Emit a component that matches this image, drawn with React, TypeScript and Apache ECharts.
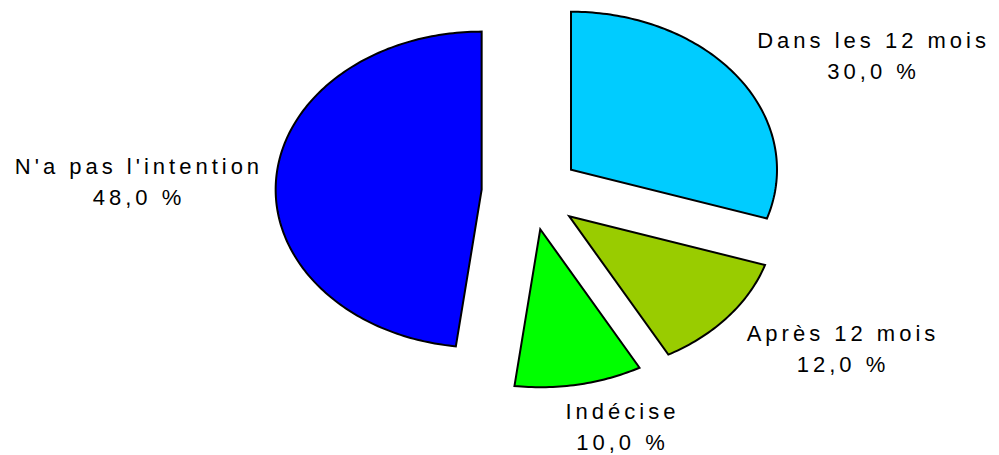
import React, { useEffect, useRef } from "react";
import * as echarts from "echarts";

const categories = ["Dans les 12 mois", "Après 12 mois", "Indécise", "N'a pas l'intention"];
const values = [30, 12, 10, 48];
const colors = ["#00CCFF", "#99CC00", "#00FF00", "#0000FF"];

const CX = 531;
const CY = 192;
const RX = 206;
const RY = 158;
const EXPLODE = 0.24;
const FONT_SIZE = 22;
const FONT_FAMILY = '"Liberation Sans", Arial, sans-serif';
const LETTER_SPACING = 4;
const LINE_GAP = 31;

function fmt(v: number) {
  return v.toFixed(1).replace(".", ",") + " %";
}

function measure(text: string) {
  const c = document.createElement("canvas");
  const ctx = c.getContext("2d")!;
  ctx.font = `${FONT_SIZE}px ${FONT_FAMILY}`;
  return ctx.measureText(text).width + LETTER_SPACING * text.length;
}

const clamp = (v: number) => Math.max(-1, Math.min(1, v));

export default function App() {
  const ref = useRef<HTMLDivElement>(null);
  useEffect(() => {
    if (!ref.current) return;
    const chart = echarts.init(ref.current, undefined, { renderer: "svg" });
    const total = values.reduce((a, b) => a + b, 0);
    const textStyle = (text: string) => ({
      text,
      fill: "#000",
      fontSize: FONT_SIZE,
      fontFamily: FONT_FAMILY,
      align: "center",
      verticalAlign: "middle",
      lineHeight: 24,
    });
    const renderItem = (params: any, api: any) => {
      const i = params.dataIndex;
      const before = values.slice(0, i).reduce((a, b) => a + b, 0);
      const v = api.value(0);
      const a0 = (before / total) * Math.PI * 2;
      const a1 = ((before + v) / total) * Math.PI * 2;
      const m = (a0 + a1) / 2;
      const ax = CX + EXPLODE * RX * Math.sin(m);
      const ay = CY - EXPLODE * RY * Math.cos(m);
      const pts: number[][] = [[ax, ay]];
      const steps = Math.max(4, Math.ceil(((a1 - a0) * 180) / Math.PI));
      for (let k = 0; k <= steps; k++) {
        const t = a0 + ((a1 - a0) * k) / steps;
        pts.push([ax + RX * Math.sin(t), ay - RY * Math.cos(t)]);
      }
      const px = ax + RX * Math.sin(m);
      const py = ay - RY * Math.cos(m);
      const line1 = categories[i];
      const line2 = fmt(v);
      const hw = Math.max(measure(line1), measure(line2)) / 2;
      const hh = 26;
      const lx = px + Math.sin(m) * 18 + hw * clamp(3.3 * Math.sin(m)) + 5;
      const ly = py - Math.cos(m) * 12 + hh * clamp(-1.2 * Math.cos(m)) + 5;
      return {
        type: "group",
        children: [
          {
            type: "polygon",
            shape: { points: pts },
            style: { fill: colors[i], stroke: "#000", lineWidth: 2, lineJoin: "miter" },
          },
          { type: "text", x: lx, y: ly - LINE_GAP / 2, style: textStyle(line1) },
          { type: "text", x: lx, y: ly + LINE_GAP / 2, style: textStyle(line2) },
        ],
      };
    };
    chart.setOption({
      animation: false,
      backgroundColor: "#fff",
      series: [
        {
          type: "custom",
          coordinateSystem: "none",
          renderItem,
          silent: true,
          data: values.map((v, i) => ({ value: v, name: categories[i] })),
        },
      ],
    });
    return () => chart.dispose();
  }, []);
  return (
    <div
      ref={ref}
      style={{
        position: "fixed",
        left: 0,
        top: 0,
        width: 999,
        height: 455,
        letterSpacing: `${LETTER_SPACING}px`,
        background: "#fff",
      }}
    />
  );
}
